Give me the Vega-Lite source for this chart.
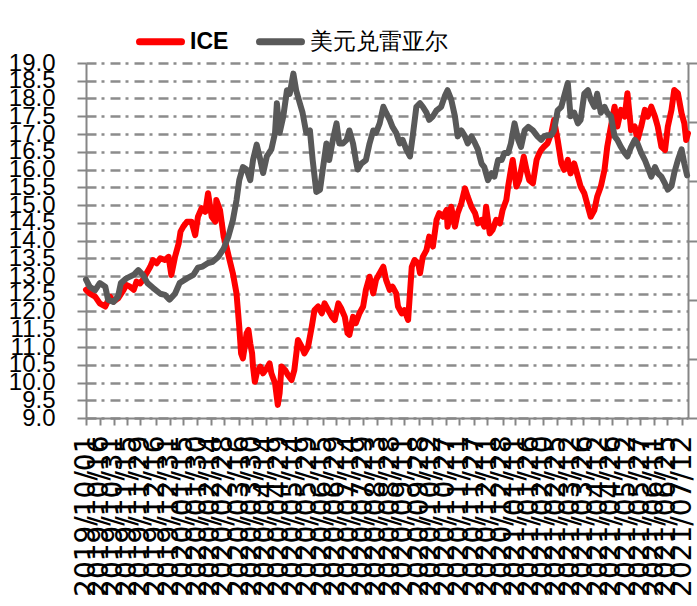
{
  "$schema": "https://vega.github.io/schema/vega-lite/v6.json",
  "width": 602,
  "height": 355,
  "autosize": "none",
  "padding": {"left": 86, "top": 63, "right": 9, "bottom": 188},
  "background": "white",
  "config": {"view": {"stroke": null}, "font": "Liberation Sans"},
  "datasets": {
    "ice": [
      {"date": "2019/10/01", "value": 12.61}, {"date": "2019/10/05", "value": 12.51}, {"date": "2019/10/11", "value": 12.42},
      {"date": "2019/10/16", "value": 12.23}, {"date": "2019/10/22", "value": 12.14}, {"date": "2019/10/27", "value": 12.42},
      {"date": "2019/10/31", "value": 12.28}, {"date": "2019/11/05", "value": 12.37}, {"date": "2019/11/11", "value": 12.61},
      {"date": "2019/11/14", "value": 12.75}, {"date": "2019/11/18", "value": 12.70}, {"date": "2019/11/22", "value": 12.61},
      {"date": "2019/11/25", "value": 12.84}, {"date": "2019/11/29", "value": 12.79}, {"date": "2019/12/02", "value": 12.89},
      {"date": "2019/12/06", "value": 13.08}, {"date": "2019/12/10", "value": 13.26}, {"date": "2019/12/13", "value": 13.45},
      {"date": "2019/12/17", "value": 13.36}, {"date": "2019/12/21", "value": 13.50}, {"date": "2019/12/26", "value": 13.45},
      {"date": "2019/12/30", "value": 13.54}, {"date": "2020/01/02", "value": 13.03}, {"date": "2020/01/06", "value": 13.54},
      {"date": "2020/01/10", "value": 13.92}, {"date": "2020/01/12", "value": 14.25}, {"date": "2020/01/15", "value": 14.39},
      {"date": "2020/01/19", "value": 14.53}, {"date": "2020/01/24", "value": 14.53}, {"date": "2020/01/28", "value": 14.15},
      {"date": "2020/01/31", "value": 14.67}, {"date": "2020/02/04", "value": 14.91}, {"date": "2020/02/08", "value": 14.81},
      {"date": "2020/02/11", "value": 15.33}, {"date": "2020/02/15", "value": 14.67}, {"date": "2020/02/19", "value": 14.53},
      {"date": "2020/02/20", "value": 15.14}, {"date": "2020/02/24", "value": 14.86}, {"date": "2020/02/28", "value": 14.11},
      {"date": "2020/03/02", "value": 13.83}, {"date": "2020/03/05", "value": 13.50}, {"date": "2020/03/09", "value": 13.08},
      {"date": "2020/03/13", "value": 12.51}, {"date": "2020/03/16", "value": 11.57}, {"date": "2020/03/18", "value": 10.82},
      {"date": "2020/03/20", "value": 10.68}, {"date": "2020/03/22", "value": 11.01}, {"date": "2020/03/24", "value": 11.39},
      {"date": "2020/03/26", "value": 11.48}, {"date": "2020/03/28", "value": 11.10}, {"date": "2020/03/30", "value": 10.82},
      {"date": "2020/03/31", "value": 10.45}, {"date": "2020/04/02", "value": 10.02}, {"date": "2020/04/04", "value": 10.26},
      {"date": "2020/04/08", "value": 10.45}, {"date": "2020/04/11", "value": 10.26}, {"date": "2020/04/15", "value": 10.40},
      {"date": "2020/04/18", "value": 10.54}, {"date": "2020/04/20", "value": 10.26}, {"date": "2020/04/24", "value": 9.98},
      {"date": "2020/04/27", "value": 9.37}, {"date": "2020/04/29", "value": 9.70}, {"date": "2020/05/01", "value": 10.45},
      {"date": "2020/05/05", "value": 10.35}, {"date": "2020/05/08", "value": 10.21}, {"date": "2020/05/12", "value": 10.07},
      {"date": "2020/05/15", "value": 10.35}, {"date": "2020/05/19", "value": 11.20}, {"date": "2020/05/23", "value": 11.01},
      {"date": "2020/05/26", "value": 10.82}, {"date": "2020/05/30", "value": 11.01}, {"date": "2020/06/03", "value": 11.57},
      {"date": "2020/06/06", "value": 12.04}, {"date": "2020/06/10", "value": 12.14}, {"date": "2020/06/14", "value": 11.95},
      {"date": "2020/06/17", "value": 12.23}, {"date": "2020/06/21", "value": 12.04}, {"date": "2020/06/25", "value": 11.85},
      {"date": "2020/06/28", "value": 11.76}, {"date": "2020/07/02", "value": 12.23}, {"date": "2020/07/05", "value": 12.09},
      {"date": "2020/07/09", "value": 11.85}, {"date": "2020/07/12", "value": 11.39}, {"date": "2020/07/14", "value": 11.34},
      {"date": "2020/07/18", "value": 11.85}, {"date": "2020/07/21", "value": 11.67}, {"date": "2020/07/25", "value": 11.95},
      {"date": "2020/07/29", "value": 12.14}, {"date": "2020/08/01", "value": 12.61}, {"date": "2020/08/05", "value": 12.98},
      {"date": "2020/08/09", "value": 12.51}, {"date": "2020/08/12", "value": 12.89}, {"date": "2020/08/16", "value": 13.08},
      {"date": "2020/08/20", "value": 13.26}, {"date": "2020/08/23", "value": 12.89}, {"date": "2020/08/27", "value": 12.61},
      {"date": "2020/08/30", "value": 12.70}, {"date": "2020/09/03", "value": 12.51}, {"date": "2020/09/05", "value": 12.14},
      {"date": "2020/09/09", "value": 11.95}, {"date": "2020/09/12", "value": 12.04}, {"date": "2020/09/16", "value": 11.76},
      {"date": "2020/09/18", "value": 12.51}, {"date": "2020/09/20", "value": 13.26}, {"date": "2020/09/23", "value": 13.45},
      {"date": "2020/09/27", "value": 13.36}, {"date": "2020/09/29", "value": 13.08}, {"date": "2020/10/02", "value": 13.54},
      {"date": "2020/10/06", "value": 13.73}, {"date": "2020/10/09", "value": 14.11}, {"date": "2020/10/13", "value": 13.83},
      {"date": "2020/10/17", "value": 14.58}, {"date": "2020/10/20", "value": 14.77}, {"date": "2020/10/24", "value": 14.67},
      {"date": "2020/10/28", "value": 14.86}, {"date": "2020/10/29", "value": 14.39}, {"date": "2020/11/02", "value": 14.95},
      {"date": "2020/11/06", "value": 14.39}, {"date": "2020/11/09", "value": 14.77}, {"date": "2020/11/13", "value": 15.05},
      {"date": "2020/11/17", "value": 15.47}, {"date": "2020/11/20", "value": 15.23}, {"date": "2020/11/24", "value": 14.95},
      {"date": "2020/11/28", "value": 14.77}, {"date": "2020/12/01", "value": 14.48}, {"date": "2020/12/05", "value": 14.58},
      {"date": "2020/12/08", "value": 14.39}, {"date": "2020/12/10", "value": 14.95}, {"date": "2020/12/14", "value": 14.20},
      {"date": "2020/12/17", "value": 14.30}, {"date": "2020/12/21", "value": 14.58}, {"date": "2020/12/25", "value": 14.48},
      {"date": "2020/12/28", "value": 14.86}, {"date": "2021/01/01", "value": 15.14}, {"date": "2021/01/03", "value": 15.52},
      {"date": "2021/01/06", "value": 15.99}, {"date": "2021/01/08", "value": 16.27}, {"date": "2021/01/12", "value": 15.52},
      {"date": "2021/01/15", "value": 15.70}, {"date": "2021/01/20", "value": 16.36}, {"date": "2021/01/23", "value": 15.99},
      {"date": "2021/01/26", "value": 15.70}, {"date": "2021/01/30", "value": 15.61}, {"date": "2021/02/03", "value": 16.27},
      {"date": "2021/02/06", "value": 16.46}, {"date": "2021/02/08", "value": 16.55}, {"date": "2021/02/11", "value": 16.64},
      {"date": "2021/02/15", "value": 16.74}, {"date": "2021/02/19", "value": 17.02}, {"date": "2021/02/22", "value": 17.39},
      {"date": "2021/02/26", "value": 16.83}, {"date": "2021/03/02", "value": 16.17}, {"date": "2021/03/05", "value": 15.99},
      {"date": "2021/03/09", "value": 16.27}, {"date": "2021/03/12", "value": 15.89}, {"date": "2021/03/16", "value": 16.17},
      {"date": "2021/03/20", "value": 15.80}, {"date": "2021/03/23", "value": 15.52}, {"date": "2021/03/27", "value": 15.33},
      {"date": "2021/03/31", "value": 14.95}, {"date": "2021/04/03", "value": 14.67}, {"date": "2021/04/07", "value": 14.86},
      {"date": "2021/04/10", "value": 15.23}, {"date": "2021/04/14", "value": 15.52}, {"date": "2021/04/18", "value": 15.99},
      {"date": "2021/04/21", "value": 16.64}, {"date": "2021/04/25", "value": 17.21}, {"date": "2021/04/29", "value": 17.77},
      {"date": "2021/05/02", "value": 17.21}, {"date": "2021/05/06", "value": 17.68}, {"date": "2021/05/10", "value": 17.49},
      {"date": "2021/05/13", "value": 18.15}, {"date": "2021/05/17", "value": 17.11}, {"date": "2021/05/21", "value": 17.21},
      {"date": "2021/05/24", "value": 16.83}, {"date": "2021/05/28", "value": 17.21}, {"date": "2021/06/01", "value": 17.68},
      {"date": "2021/06/04", "value": 17.49}, {"date": "2021/06/08", "value": 17.77}, {"date": "2021/06/12", "value": 17.49},
      {"date": "2021/06/15", "value": 17.21}, {"date": "2021/06/19", "value": 16.64}, {"date": "2021/06/23", "value": 16.55},
      {"date": "2021/06/26", "value": 17.21}, {"date": "2021/06/30", "value": 17.68}, {"date": "2021/07/03", "value": 18.24},
      {"date": "2021/07/07", "value": 18.15}, {"date": "2021/07/11", "value": 17.58}, {"date": "2021/07/14", "value": 17.30},
      {"date": "2021/07/16", "value": 16.83}, {"date": "2021/07/18", "value": 17.02}
    ],
    "brl": [
      {"date": "2019/10/01", "value": 4.17}, {"date": "2019/10/05", "value": 4.11}, {"date": "2019/10/11", "value": 4.08},
      {"date": "2019/10/16", "value": 4.14}, {"date": "2019/10/22", "value": 4.11}, {"date": "2019/10/25", "value": 4.00},
      {"date": "2019/10/31", "value": 3.98}, {"date": "2019/11/05", "value": 4.03}, {"date": "2019/11/08", "value": 4.14},
      {"date": "2019/11/14", "value": 4.18}, {"date": "2019/11/22", "value": 4.21}, {"date": "2019/11/27", "value": 4.25},
      {"date": "2019/12/02", "value": 4.21}, {"date": "2019/12/07", "value": 4.14}, {"date": "2019/12/13", "value": 4.10},
      {"date": "2019/12/21", "value": 4.05}, {"date": "2019/12/26", "value": 4.04}, {"date": "2019/12/31", "value": 4.00},
      {"date": "2020/01/06", "value": 4.05}, {"date": "2020/01/11", "value": 4.14}, {"date": "2020/01/19", "value": 4.18},
      {"date": "2020/01/26", "value": 4.21}, {"date": "2020/01/31", "value": 4.27}, {"date": "2020/02/05", "value": 4.28},
      {"date": "2020/02/11", "value": 4.31}, {"date": "2020/02/16", "value": 4.32}, {"date": "2020/02/22", "value": 4.36},
      {"date": "2020/02/28", "value": 4.43}, {"date": "2020/03/04", "value": 4.53}, {"date": "2020/03/09", "value": 4.67},
      {"date": "2020/03/13", "value": 4.84}, {"date": "2020/03/16", "value": 5.01}, {"date": "2020/03/20", "value": 5.12},
      {"date": "2020/03/24", "value": 5.10}, {"date": "2020/03/28", "value": 5.01}, {"date": "2020/03/31", "value": 5.18},
      {"date": "2020/04/04", "value": 5.31}, {"date": "2020/04/08", "value": 5.18}, {"date": "2020/04/11", "value": 5.07},
      {"date": "2020/04/15", "value": 5.21}, {"date": "2020/04/20", "value": 5.27}, {"date": "2020/04/24", "value": 5.41},
      {"date": "2020/04/26", "value": 5.66}, {"date": "2020/04/29", "value": 5.41}, {"date": "2020/05/03", "value": 5.55},
      {"date": "2020/05/07", "value": 5.77}, {"date": "2020/05/10", "value": 5.74}, {"date": "2020/05/14", "value": 5.91},
      {"date": "2020/05/17", "value": 5.77}, {"date": "2020/05/21", "value": 5.66}, {"date": "2020/05/24", "value": 5.58},
      {"date": "2020/05/28", "value": 5.41}, {"date": "2020/06/01", "value": 5.43}, {"date": "2020/06/04", "value": 5.18},
      {"date": "2020/06/08", "value": 4.91}, {"date": "2020/06/12", "value": 4.93}, {"date": "2020/06/15", "value": 5.10},
      {"date": "2020/06/19", "value": 5.32}, {"date": "2020/06/22", "value": 5.18}, {"date": "2020/06/26", "value": 5.35},
      {"date": "2020/06/30", "value": 5.49}, {"date": "2020/07/03", "value": 5.32}, {"date": "2020/07/07", "value": 5.32},
      {"date": "2020/07/11", "value": 5.35}, {"date": "2020/07/14", "value": 5.43}, {"date": "2020/07/18", "value": 5.32},
      {"date": "2020/07/21", "value": 5.18}, {"date": "2020/07/23", "value": 5.10}, {"date": "2020/07/27", "value": 5.15},
      {"date": "2020/08/01", "value": 5.18}, {"date": "2020/08/05", "value": 5.32}, {"date": "2020/08/09", "value": 5.43},
      {"date": "2020/08/12", "value": 5.41}, {"date": "2020/08/16", "value": 5.49}, {"date": "2020/08/20", "value": 5.63},
      {"date": "2020/08/23", "value": 5.58}, {"date": "2020/08/27", "value": 5.52}, {"date": "2020/08/30", "value": 5.46},
      {"date": "2020/09/03", "value": 5.41}, {"date": "2020/09/07", "value": 5.32}, {"date": "2020/09/10", "value": 5.35},
      {"date": "2020/09/14", "value": 5.27}, {"date": "2020/09/18", "value": 5.21}, {"date": "2020/09/21", "value": 5.38},
      {"date": "2020/09/25", "value": 5.63}, {"date": "2020/09/29", "value": 5.66}, {"date": "2020/10/02", "value": 5.63},
      {"date": "2020/10/06", "value": 5.58}, {"date": "2020/10/09", "value": 5.52}, {"date": "2020/10/13", "value": 5.55},
      {"date": "2020/10/17", "value": 5.60}, {"date": "2020/10/22", "value": 5.63}, {"date": "2020/10/26", "value": 5.72},
      {"date": "2020/10/29", "value": 5.77}, {"date": "2020/11/02", "value": 5.69}, {"date": "2020/11/06", "value": 5.55},
      {"date": "2020/11/09", "value": 5.38}, {"date": "2020/11/13", "value": 5.43}, {"date": "2020/11/17", "value": 5.38},
      {"date": "2020/11/20", "value": 5.32}, {"date": "2020/11/24", "value": 5.38}, {"date": "2020/11/28", "value": 5.32},
      {"date": "2020/12/01", "value": 5.27}, {"date": "2020/12/05", "value": 5.15}, {"date": "2020/12/08", "value": 5.12},
      {"date": "2020/12/12", "value": 5.01}, {"date": "2020/12/16", "value": 5.07}, {"date": "2020/12/19", "value": 5.04},
      {"date": "2020/12/23", "value": 5.18}, {"date": "2020/12/27", "value": 5.18}, {"date": "2020/12/30", "value": 5.24},
      {"date": "2021/01/03", "value": 5.24}, {"date": "2021/01/06", "value": 5.32}, {"date": "2021/01/10", "value": 5.49},
      {"date": "2021/01/14", "value": 5.35}, {"date": "2021/01/17", "value": 5.29}, {"date": "2021/01/21", "value": 5.43},
      {"date": "2021/01/25", "value": 5.46}, {"date": "2021/01/30", "value": 5.43}, {"date": "2021/02/04", "value": 5.38},
      {"date": "2021/02/08", "value": 5.35}, {"date": "2021/02/11", "value": 5.38}, {"date": "2021/02/15", "value": 5.39},
      {"date": "2021/02/19", "value": 5.39}, {"date": "2021/02/22", "value": 5.43}, {"date": "2021/02/26", "value": 5.60},
      {"date": "2021/03/02", "value": 5.63}, {"date": "2021/03/05", "value": 5.72}, {"date": "2021/03/09", "value": 5.83},
      {"date": "2021/03/12", "value": 5.55}, {"date": "2021/03/16", "value": 5.58}, {"date": "2021/03/20", "value": 5.49},
      {"date": "2021/03/23", "value": 5.52}, {"date": "2021/03/27", "value": 5.74}, {"date": "2021/03/31", "value": 5.77},
      {"date": "2021/04/03", "value": 5.69}, {"date": "2021/04/07", "value": 5.63}, {"date": "2021/04/10", "value": 5.74},
      {"date": "2021/04/14", "value": 5.58}, {"date": "2021/04/18", "value": 5.63}, {"date": "2021/04/21", "value": 5.58},
      {"date": "2021/04/25", "value": 5.55}, {"date": "2021/04/29", "value": 5.38}, {"date": "2021/05/02", "value": 5.35},
      {"date": "2021/05/06", "value": 5.29}, {"date": "2021/05/10", "value": 5.24}, {"date": "2021/05/13", "value": 5.21},
      {"date": "2021/05/17", "value": 5.29}, {"date": "2021/05/21", "value": 5.35}, {"date": "2021/05/24", "value": 5.32},
      {"date": "2021/05/28", "value": 5.24}, {"date": "2021/06/01", "value": 5.18}, {"date": "2021/06/04", "value": 5.12},
      {"date": "2021/06/08", "value": 5.04}, {"date": "2021/06/12", "value": 5.12}, {"date": "2021/06/15", "value": 5.07},
      {"date": "2021/06/19", "value": 5.04}, {"date": "2021/06/23", "value": 4.98}, {"date": "2021/06/26", "value": 4.93},
      {"date": "2021/06/30", "value": 4.96}, {"date": "2021/07/03", "value": 5.07}, {"date": "2021/07/07", "value": 5.18},
      {"date": "2021/07/11", "value": 5.27}, {"date": "2021/07/14", "value": 5.15}, {"date": "2021/07/17", "value": 5.05}
    ]
  },
  "encoding": {
    "x": {
      "field": "date",
      "type": "temporal",
      "scale": {"domain": [{"year": 2019, "month": 10, "date": 1}, {"year": 2021, "month": 7, "date": 18}], "nice": false},
      "axis": {
        "title": null,
        "values": [
          {"year": 2019, "month": 10, "date": 1}, {"year": 2019, "month": 10, "date": 16}, {"year": 2019, "month": 10, "date": 31},
          {"year": 2019, "month": 11, "date": 15}, {"year": 2019, "month": 11, "date": 29}, {"year": 2019, "month": 12, "date": 16},
          {"year": 2019, "month": 12, "date": 31}, {"year": 2020, "month": 1, "date": 15}, {"year": 2020, "month": 1, "date": 30},
          {"year": 2020, "month": 2, "date": 14}, {"year": 2020, "month": 2, "date": 28}, {"year": 2020, "month": 3, "date": 16},
          {"year": 2020, "month": 3, "date": 30}, {"year": 2020, "month": 4, "date": 14}, {"year": 2020, "month": 4, "date": 29},
          {"year": 2020, "month": 5, "date": 14}, {"year": 2020, "month": 5, "date": 29}, {"year": 2020, "month": 6, "date": 15},
          {"year": 2020, "month": 6, "date": 29}, {"year": 2020, "month": 7, "date": 14}, {"year": 2020, "month": 7, "date": 29},
          {"year": 2020, "month": 8, "date": 13}, {"year": 2020, "month": 8, "date": 28}, {"year": 2020, "month": 9, "date": 11},
          {"year": 2020, "month": 9, "date": 28}, {"year": 2020, "month": 10, "date": 12}, {"year": 2020, "month": 10, "date": 27},
          {"year": 2020, "month": 11, "date": 11}, {"year": 2020, "month": 11, "date": 27}, {"year": 2020, "month": 12, "date": 11},
          {"year": 2020, "month": 12, "date": 28}, {"year": 2021, "month": 1, "date": 11}, {"year": 2021, "month": 1, "date": 26},
          {"year": 2021, "month": 2, "date": 10}, {"year": 2021, "month": 2, "date": 25}, {"year": 2021, "month": 3, "date": 12},
          {"year": 2021, "month": 3, "date": 26}, {"year": 2021, "month": 4, "date": 12}, {"year": 2021, "month": 4, "date": 26},
          {"year": 2021, "month": 5, "date": 12}, {"year": 2021, "month": 5, "date": 27}, {"year": 2021, "month": 6, "date": 11},
          {"year": 2021, "month": 6, "date": 25}, {"year": 2021, "month": 7, "date": 12}
        ],
        "format": "%Y/%m/%d",
        "labelAngle": 270,
        "labelFont": "DejaVu Sans",
        "labelFontSize": 28,
        "labelColor": "#000000",
        "labelPadding": 10,
        "labelOverlap": false,
        "labelBound": false,
        "labelFlush": false,
        "tickSize": 7,
        "tickWidth": 2,
        "tickColor": "#868686",
        "domainColor": "#868686",
        "domainWidth": 2,
        "grid": false
      }
    }
  },
  "layer": [
    {
      "data": {"name": "ice"},
      "mark": {"type": "line", "strokeWidth": 6, "strokeJoin": "round", "strokeCap": "round"},
      "encoding": {
        "y": {
          "field": "value",
          "type": "quantitative",
          "scale": {"domain": [9, 19], "nice": false, "zero": false},
          "axis": {
            "orient": "left",
            "title": null,
            "values": [9, 9.5, 10, 10.5, 11, 11.5, 12, 12.5, 13, 13.5, 14, 14.5, 15, 15.5, 16, 16.5, 17, 17.5, 18, 18.5, 19],
            "format": ".1f",
            "labelFont": "Liberation Sans",
            "labelFontSize": 24,
            "labelColor": "#000000",
            "labelPadding": 22,
            "labelOverlap": false,
            "labelBound": false,
            "labelFlush": false,
            "tickSize": 9,
            "tickWidth": 2,
            "tickColor": "#868686",
            "domainColor": "#868686",
            "domainWidth": 2,
            "grid": true,
            "gridColor": "#8c8c8c",
            "gridWidth": 2.5,
            "gridDash": [10, 5, 3, 6]
          }
        },
        "color": {
          "datum": "ICE",
          "type": "nominal",
          "scale": {"domain": ["ICE", "美元兑雷亚尔"], "range": ["#ff0000", "#595959"]},
          "legend": {
            "title": null,
            "orient": "none",
            "legendX": 50,
            "legendY": -46,
            "direction": "horizontal",
            "padding": 0,
            "symbolType": "stroke",
            "symbolSize": 1764,
            "symbolStrokeWidth": 7,
            "labelFont": "Liberation Sans",
            "labelFontSize": 23,
            "labelColor": "#000000",
            "labelOffset": 5,
            "columnPadding": 16,
            "encode": {
              "labels": {"update": {"fontWeight": {"signal": "datum.label === 'ICE' ? 'bold' : 'normal'"}}},
              "symbols": {"update": {"strokeCap": {"value": "round"}}}
            }
          }
        }
      }
    },
    {
      "data": {"name": "brl"},
      "mark": {"type": "line", "strokeWidth": 6, "strokeJoin": "round", "strokeCap": "round"},
      "encoding": {
        "y": {
          "field": "value",
          "type": "quantitative",
          "scale": {"domain": [3, 6], "nice": false, "zero": false},
          "axis": {
            "orient": "right",
            "title": null,
            "values": [3, 3.5, 4, 4.5, 5, 5.5, 6],
            "labels": false,
            "tickSize": 9,
            "tickWidth": 2,
            "tickColor": "#868686",
            "domainColor": "#868686",
            "domainWidth": 2,
            "grid": false
          }
        },
        "color": {"datum": "美元兑雷亚尔", "type": "nominal"}
      }
    }
  ],
  "resolve": {"scale": {"y": "independent"}}
}
